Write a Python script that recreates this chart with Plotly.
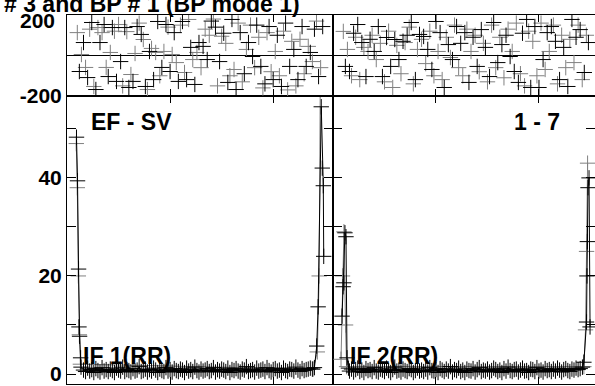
import plotly.graph_objects as go

W, H = 595, 386

# ---- spectrum magnitude (bottom panels) ----
# left panel, black trace
l_mag_head_x = [4.6, 5.1, 5.6, 5.8, 6.1, 6.6, 6.8]
l_mag_head_y = [48.3, 39.4, 21.4, 9.6, 7.7, 3.3, 1.4]
l_mag_flat = [0.8, 0.5, 1.2, 0.6, 0.9, 0.3, 1.1, 0.7, 0.4, 1.3, 0.6, 0.9, 0.5, 1.0, 0.7, 0.3, 1.2, 0.8, 0.6, 1.4,
              0.5, 0.9, 0.7, 0.4, 1.1, 0.6, 0.8, 1.5, 0.5, 0.7, 1.0, 0.4, 0.9, 0.6, 1.2, 0.8, 0.3, 1.0, 0.7, 0.5,
              1.3, 0.6, 0.9, 0.4, 1.1, 0.7, 0.5, 1.0, 0.8, 0.3, 1.2, 0.6, 0.9, 0.5, 1.4, 0.7, 0.4, 1.0, 0.6, 0.8,
              1.1, 0.5, 0.7, 1.3, 0.4, 0.9, 0.6, 1.0, 0.8, 0.5, 1.2, 0.3, 0.9, 0.7, 1.1, 0.6, 0.4, 1.0, 0.8, 1.5,
              0.5, 0.7, 0.9, 0.4, 1.2, 0.6, 0.8, 1.0, 0.5, 1.3, 0.7, 0.4, 0.9, 1.1, 0.6, 0.8, 0.3, 1.2, 0.7, 0.5,
              1.0, 0.9, 0.6, 1.4, 0.8, 0.5, 1.1, 0.7, 0.9, 1.0, 1.2, 1.0, 1.3]
l_mag_tail_x = [121.1, 121.8, 123.3, 123.8, 124.3, 124.5]
l_mag_tail_y = [5.7, 13.7, 54.5, 42.0, 38.4, 24.0]
# left panel, grey trace
l_mag2_x = [4.5, 5.0, 5.5, 6.0, 6.5, 119.4, 121.4, 122.3, 122.8]
l_mag2_y = [47.0, 38.0, 20.0, 8.0, 2.0, 1.0, 4.5, 20.0, 58.0]

# right panel, black trace
r_mag_head_x = [4.4, 4.9, 5.3, 5.8, 6.3, 6.8, 7.5]
r_mag_head_y = [11.8, 17.8, 18.6, 28.8, 28.0, 3.3, 1.2]
r_mag_flat = [0.6, 1.0, 0.4, 0.9, 1.2, 0.5, 0.8, 0.3, 1.1, 0.7, 0.9, 0.5, 1.3, 0.6, 0.4, 1.0, 0.8, 0.5, 1.2, 0.7,
              0.3, 0.9, 1.4, 0.6, 0.8, 0.4, 1.0, 0.7, 0.5, 1.1, 0.9, 0.3, 0.7, 1.2, 0.6, 0.8, 0.5, 1.0, 0.4, 1.3,
              0.7, 0.6, 0.9, 0.3, 1.1, 0.8, 0.5, 1.0, 0.6, 1.5, 0.4, 0.9, 0.7, 1.2, 0.5, 0.8, 0.3, 1.0, 0.7, 0.6,
              1.1, 0.4, 0.9, 1.3, 0.5, 0.8, 0.6, 1.0, 0.4, 0.7, 1.2, 0.9, 0.5, 0.8, 0.3, 1.1, 0.6, 1.4, 0.7, 0.5,
              0.9, 1.0, 0.4, 0.8, 1.2, 0.6, 0.7, 0.3, 1.0, 0.9, 0.5, 1.3, 0.6, 0.8, 0.4, 1.1, 0.7, 0.9, 0.5, 1.0,
              0.6, 1.2, 0.8, 0.4, 0.9, 1.1, 0.7, 0.5, 1.0, 0.8, 1.2, 0.9, 1.1]
r_mag_tail_x = [121.1, 121.8, 123.1, 123.3, 123.5, 123.8, 124.3, 124.8]
r_mag_tail_y = [1.4, 2.4, 10.6, 20.0, 27.0, 38.0, 40.0, 9.6]
# right panel, grey trace
r_mag2_x = [3.9, 4.6, 5.3, 6.1, 6.6, 121.8, 122.6, 123.1, 123.6]
r_mag2_y = [3.0, 20.0, 29.0, 10.0, 1.5, 1.5, 9.0, 25.0, 43.0]

# ---- phase (top panels), degrees ----
l_ph_black = [-79, 64, -109, 163, -168, 64, 153, -104, 138, -128, -30, 138, -158, -128, 143, 104, -153, 20, -119, 168,
              -59, 153, -79, 113, -128, 168, -119, 40, -143, 64, 45, -20, 170, 140, -30, 110, -133, 178, -168, 113,
              -90, 64, -5, 150, -54, -140, 143, -119, 100, -153, 160, -54, 30, -119, 143, -54, 15, 130, -104, 143]
l_ph_grey = [113, 5, -59, 130, -153, 138, 113, -59, 15, 120, 153, -150, 118, -94, 10, 160, 79, -168, 35, 15,
             -100, 20, 140, 5, -35, 150, -84, 178, -20, 15, -60, 130, 100, 180, -150, 95, 60, -100, -69, 160,
             -130, 30, 150, -60, 90, -160, 113, -80, 20, -100, 120, -170, 70, -150, 80, -90, 45, -30, 170, -60]
r_ph_black = [-54, -79, 110, 153, 64, -104, 80, 20, 143, -104, 89, -54, 79, -20, 70, 100, 163, -119, 104, 94,
              30, -69, 168, 113, -158, 54, -20, 143, 60, 113, -133, 90, -54, 128, 40, -104, 163, -35, 54, 100,
              -5, -79, -133, 110, 178, -158, 143, -158, -20, 113, 143, 70, -119, 40, -153, 178, 90, 128, -84, 64]
r_ph_grey = [119, 30, -100, 90, -119, 40, 20, 100, -20, 60, -130, 120, -158, 50, -90, 64, 140, -140, 30, 80,
             -40, 120, -100, 20, -119, 90, -10, 150, -60, -100, 130, 20, 100, -80, 60, -130, 150, -60, 90, -110,
             130, 20, 160, -90, -150, 120, 70, -100, 160, -69, 20, 150, -140, 100, -60, 80, -35, 150, -119, 100]

mag_ticks = [0, 10, 20, 30, 40, 50]
mag_ticktext = ["0", "", "20", "", "40", ""]
ph_ticks = [-200, 200]
ph_ticktext = ["-200", ""]
ph_top_text = "200"
freq_ticks = [50, 100]

FONT = "Liberation Sans, Arial, sans-serif"
BLACK = "#000000"
GREY = "#808080"


def cross(color):
    return dict(symbol="cross-thin", size=11, color=color, line=dict(color=color, width=1))


def flat_x(start, values):
    return [start + i for i in range(len(values))]


fig = go.Figure()

# bottom-left magnitude
fig.add_trace(go.Scatter(x=l_mag2_x, y=l_mag2_y, mode="lines+markers", xaxis="x", yaxis="y",
                         line=dict(color=GREY, width=1), marker=cross(GREY)))
fig.add_trace(go.Scatter(x=l_mag_head_x + flat_x(8, l_mag_flat) + l_mag_tail_x,
                         y=l_mag_head_y + l_mag_flat + l_mag_tail_y,
                         mode="lines+markers", xaxis="x", yaxis="y",
                         line=dict(color=BLACK, width=1), marker=cross(BLACK)))
# bottom-right magnitude
fig.add_trace(go.Scatter(x=r_mag2_x, y=r_mag2_y, mode="lines+markers", xaxis="x2", yaxis="y2",
                         line=dict(color=GREY, width=1), marker=cross(GREY)))
fig.add_trace(go.Scatter(x=r_mag_head_x + flat_x(8, r_mag_flat) + r_mag_tail_x,
                         y=r_mag_head_y + r_mag_flat + r_mag_tail_y,
                         mode="lines+markers", xaxis="x2", yaxis="y2",
                         line=dict(color=BLACK, width=1), marker=cross(BLACK)))
# top-left phase
fig.add_trace(go.Scatter(x=[5 + 2 * i for i in range(len(l_ph_grey))], y=l_ph_grey, mode="markers",
                         xaxis="x3", yaxis="y3", marker=cross(GREY)))
fig.add_trace(go.Scatter(x=[6 + 2 * i for i in range(len(l_ph_black))], y=l_ph_black, mode="markers",
                         xaxis="x3", yaxis="y3", marker=cross(BLACK)))
# top-right phase
fig.add_trace(go.Scatter(x=[5 + 2 * i for i in range(len(r_ph_grey))], y=r_ph_grey, mode="markers",
                         xaxis="x4", yaxis="y4", marker=cross(GREY)))
fig.add_trace(go.Scatter(x=[6 + 2 * i for i in range(len(r_ph_black))], y=r_ph_black, mode="markers",
                         xaxis="x4", yaxis="y4", marker=cross(BLACK)))

xl = [67 / W, 333 / W]
xr = [333 / W, 1.0]
yb = [1 - 384 / H, 1 - 96 / H]
yt = [1 - 96 / H, 1 - 15 / H]

common = dict(showline=True, linecolor=BLACK, linewidth=1, mirror="ticks", ticks="inside",
              tickcolor=BLACK, tickwidth=1, showgrid=False, zeroline=False, automargin=False)
tickfont = dict(family=FONT, size=21, color=BLACK, weight="bold")

fig.update_layout(
    template="none",
    width=W, height=H, margin=dict(l=0, r=0, t=0, b=0, autoexpand=False),
    paper_bgcolor="white", plot_bgcolor="white", showlegend=False,
    xaxis=dict(domain=xl, range=[0, 129], anchor="y", tickvals=freq_ticks, showticklabels=False,
               ticklen=7, **common),
    xaxis2=dict(domain=xr, range=[0, 127.2], anchor="y2", tickvals=freq_ticks, showticklabels=False,
                ticklen=7, **common),
    xaxis3=dict(domain=xl, range=[0, 129], anchor="y3", tickvals=freq_ticks, showticklabels=False,
                ticklen=7, **common),
    xaxis4=dict(domain=xr, range=[0, 127.2], anchor="y4", tickvals=freq_ticks, showticklabels=False,
                ticklen=7, **common),
    yaxis=dict(domain=yb, range=[-2.04, 56.7], anchor="x", tickvals=mag_ticks, ticktext=mag_ticktext,
               tickfont=tickfont, ticklen=9, **common),
    yaxis2=dict(domain=yb, range=[-2.04, 56.7], anchor="x2", tickvals=mag_ticks, showticklabels=False,
                ticklen=9, **common),
    yaxis3=dict(domain=yt, range=[-200, 200], anchor="x3", tickvals=ph_ticks, ticktext=ph_ticktext,
                tickfont=tickfont, ticklen=9, **{**common, "zeroline": True}, zerolinecolor=BLACK,
                zerolinewidth=1),
    yaxis4=dict(domain=yt, range=[-200, 200], anchor="x4", tickvals=ph_ticks, showticklabels=False,
                ticklen=9, **{**common, "zeroline": True}, zerolinecolor=BLACK, zerolinewidth=1),
)

labfont = dict(family=FONT, size=23, color=BLACK, weight="bold")


def label(text, xp, yp, xanchor="center", font=labfont):
    fig.add_annotation(text=text, x=xp / W, y=1 - yp / H, xref="paper", yref="paper",
                       xanchor=xanchor, yanchor="middle", showarrow=False, font=font)


# upper phase limit label, set a little below the heading
label(ph_top_text, 57, 20.5, xanchor="right", font=tickfont)
label("EF - SV", 131.5, 122)
label("1 - 7", 537, 122)
label("IF 1(RR)", 127, 356)
label("IF 2(RR)", 394, 356)
label("# 3 and BP # 1 (BP mode 1)", 2, 4, xanchor="left")

fig.write_html("out.html")
